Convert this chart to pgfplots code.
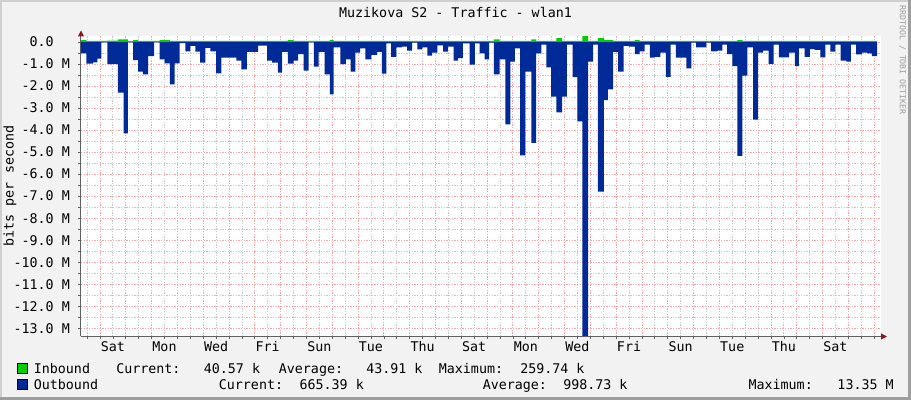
\documentclass[border=0pt]{standalone}
\usepackage{fontspec}
\setmainfont{DejaVu Sans Mono}
\usepackage{pgfplots}
\pgfplotsset{compat=1.18}
\usetikzlibrary{arrows.meta}

\definecolor{inb}{HTML}{00CF00}
\definecolor{outb}{HTML}{002A97}
\definecolor{bgc}{HTML}{F2F2F2}
\definecolor{shadea}{HTML}{CFCFCF}
\definecolor{shadeb}{HTML}{9E9E9E}
\definecolor{mgridc}{HTML}{F8AAAA}
\definecolor{gridc}{HTML}{C8C8C8}
\definecolor{axisc}{HTML}{606060}
\definecolor{arrowc}{HTML}{8B1A1A}

\begin{document}
\begin{tikzpicture}[x=0.75pt,y=0.75pt]
% page background and RRD style frame
\fill[bgc] (0,0) rectangle (911,400);
\fill[shadea] (0,0) rectangle (2,400);
\fill[shadea] (0,398) rectangle (911,400);
\fill[shadeb] (0,0) rectangle (911,3);
\fill[shadeb] (908,0) rectangle (911,400);

\begin{axis}[
  at={(60.75pt,47.625pt)}, anchor=south west,
  scale only axis, width=600pt, height=225pt,
  xmin=0, xmax=31, ymin=-13.374, ymax=0.25,
  axis background/.style={fill=white},
  axis x line=bottom, axis y line=left,
  axis line style={draw=axisc, line width=0.75pt},
  x axis line style={-{Triangle[length=4.5pt,width=4.5pt,color=arrowc]}, shorten >=-4.5pt},
  y axis line style={-{Triangle[length=4.5pt,width=4.5pt,color=arrowc]}, shorten >=-4.5pt},
  tick align=outside,
  major tick length=2pt, minor tick length=2pt,
  tick style={draw=axisc, line width=0.5pt},
  grid=both,
  major grid style={draw=mgridc, line width=0.6pt, dash pattern=on 1pt off 1pt},
  minor grid style={draw=gridc, line width=0.6pt, dash pattern=on 1pt off 1pt},
  xtick={0.736,1.736,...,30.8},
  minor xtick={0.236,1.236,...,30.3},
  xticklabels={},
  extra x ticks={1.236,3.236,5.236,7.236,9.236,11.236,13.236,15.236,17.236,19.236,21.236,23.236,25.236,27.236,29.236},
  extra x tick labels={Sat,Mon,Wed,Fri,Sun,Tue,Thu,Sat,Mon,Wed,Fri,Sun,Tue,Thu,Sat},
  extra x tick style={grid=none, major tick length=0pt},
  xticklabel style={anchor=base, inner sep=0pt, yshift=-11.4pt},
  ytick={-13,-12,...,0},
  minor ytick={-12.5,-11.5,...,-0.4},
  yticklabels={-13.0 M,-12.0 M,-11.0 M,-10.0 M,-9.0 M,-8.0 M,-7.0 M,-6.0 M,-5.0 M,-4.0 M,-3.0 M,-2.0 M,-1.0 M,0.0\phantom{\ M}},
  yticklabel style={anchor=east, inner sep=0pt, xshift=-6.2pt},
]
% Inbound (positive)
\addplot[const plot, fill=inb, draw=none] coordinates {
(0.00,0.09) (0.21,0.05) (1.02,0.06) (1.43,0.12) (1.82,0.04) (2.02,0.09) (2.21,0.05)
(3.05,0.09) (3.44,0.05) (8.02,0.09) (8.24,0.05) (9.64,0.09) (9.79,0.05) (16.00,0.12)
(16.22,0.05) (17.45,0.12) (17.64,0.05) (18.42,0.18) (18.64,0.05) (19.43,0.27) (19.65,0.05)
(20.03,0.18) (20.26,0.09) (20.62,0.05) (21.46,0.08) (21.65,0.05) (25.43,0.09) (25.63,0.05)
(30.85,0.05)} \closedcycle;
% Outbound (drawn negative)
\addplot[const plot, fill=outb, draw=none] coordinates {
(0.00,-0.52) (0.21,-0.98) (0.47,-0.92) (0.63,-0.76) (0.79,-0.02) (1.02,-1.00) (1.43,-2.30)
(1.65,-4.15) (1.82,-0.02) (2.02,-0.82) (2.21,-1.35) (2.40,-1.47) (2.60,-0.64) (2.83,-0.02)
(3.05,-0.79) (3.24,-0.97) (3.44,-1.92) (3.63,-0.97) (3.82,-0.05) (4.04,-0.42) (4.24,-0.18)
(4.43,-0.44) (4.62,-0.94) (4.82,-0.27) (5.01,-0.42) (5.24,-1.42) (5.44,-0.71) (6.02,-0.85)
(6.21,-1.24) (6.43,-0.45) (6.86,-0.17) (7.21,-0.85) (7.40,-0.94) (7.63,-1.39)
(7.79,-0.45) (8.02,-0.98) (8.24,-0.85) (8.41,-0.55) (8.63,-1.30) (8.82,-0.02) (9.02,-1.12)
(9.21,-0.45) (9.44,-1.47) (9.64,-2.38) (9.79,-0.24) (10.05,-1.00) (10.26,-0.79) (10.45,-1.35)
(10.63,-0.48) (10.82,-0.29) (11.02,-0.79) (11.25,-0.58) (11.47,-0.45) (11.66,-1.44) (11.83,-0.06)
(12.02,-0.67) (12.22,-0.24) (12.44,-0.21) (12.64,-0.39) (12.83,-0.03) (13.03,-0.33) (13.23,-0.24)
(13.42,-0.62) (13.61,-0.48) (13.81,-0.15) (14.03,-0.44) (14.22,-0.21) (14.44,-0.85) (14.61,-0.73)
(14.80,-0.06) (15.06,-1.03) (15.26,-0.06) (15.45,-0.52)
(15.64,-0.79) (15.81,-0.03) (16.00,-1.47) (16.22,-0.79) (16.44,-3.74) (16.64,-0.89) (16.81,-0.29)
(17.02,-5.15) (17.22,-1.35) (17.45,-4.58) (17.64,-0.52) (17.84,-0.12) (18.03,-1.15) (18.22,-2.48)
(18.42,-3.20) (18.64,-2.48) (18.83,-0.12) (19.05,-1.60) (19.23,-3.60) (19.43,-13.35) (19.65,-0.89)
(19.84,-0.12) (20.03,-6.80) (20.26,-2.64) (20.42,-2.15) (20.62,-0.45) (20.81,-1.35) (21.03,-0.18)
(21.22,-0.21) (21.46,-0.55) (21.65,-0.42) (21.84,-0.12) (22.04,-0.71) (22.23,-0.67) (22.45,-0.48)
(22.66,-1.58) (22.85,-0.12) (23.05,-0.71)
(23.46,-1.20) (23.65,-0.03) (23.84,-0.24) (24.23,-0.03) (24.42,-0.42) (24.66,-0.39) (24.85,-0.12)
(25.04,-0.55) (25.24,-1.09) (25.43,-5.17) (25.63,-1.53) (25.82,-0.24) (26.04,-3.52) (26.23,-0.48)
(26.43,-0.39) (26.65,-1.00) (26.84,-0.12) (27.04,-0.70) (27.44,-0.48) (27.66,-1.09) (27.82,-0.29)
(28.04,-0.67) (28.24,-0.32) (28.43,-0.36) (28.65,-0.70) (28.84,-0.12) (29.04,-0.44) (29.23,-0.12)
(29.44,-0.85) (29.66,-0.89) (29.83,-0.12) (30.04,-0.56) (30.26,-0.48) (30.46,-0.52) (30.65,-0.64)
(30.85,-0.64)} \closedcycle;
\end{axis}

% title, axis label, watermark
\node[anchor=base, inner sep=0pt] at (455.5,382) {Muzikova S2 - Traffic - wlan1};
\node[rotate=90, inner sep=0pt] at (10,214) {bits per second};
\node[rotate=-90, inner sep=0pt, text=black!38, font=\fontsize{6.2}{7}\selectfont] at (902.5,340) {RRDTOOL / TOBI OETIKER};

% legend
\filldraw[fill=inb, draw=black, line width=0.75pt] (17.5,26.5) rectangle (27.5,36.5);
\filldraw[fill=outb, draw=black, line width=0.75pt] (17.5,10.5) rectangle (27.5,20.5);
\begin{scope}[every node/.style={anchor=base west, inner sep=0pt}]
\node at (33.6,26.7) {Inbound};
\node at (116,26.7) {Current:};
\node at (203.6,26.7) {40.57 k};
\node at (278.6,26.7) {Average:};
\node at (366,26.7) {43.91 k};
\node at (438.6,26.7) {Maximum:};
\node at (520,26.7) {259.74 k};
\node at (33.6,10.9) {Outbound};
\node at (218.6,10.9) {Current:};
\node at (299.3,10.9) {665.39 k};
\node at (482.5,10.9) {Average:};
\node at (563,10.9) {998.73 k};
\node at (748.3,10.9) {Maximum:};
\node at (837.2,10.9) {13.35 M};
\end{scope}

\pgfresetboundingbox
\path[use as bounding box] (0,0) rectangle (911,400);
\end{tikzpicture}
\end{document}
